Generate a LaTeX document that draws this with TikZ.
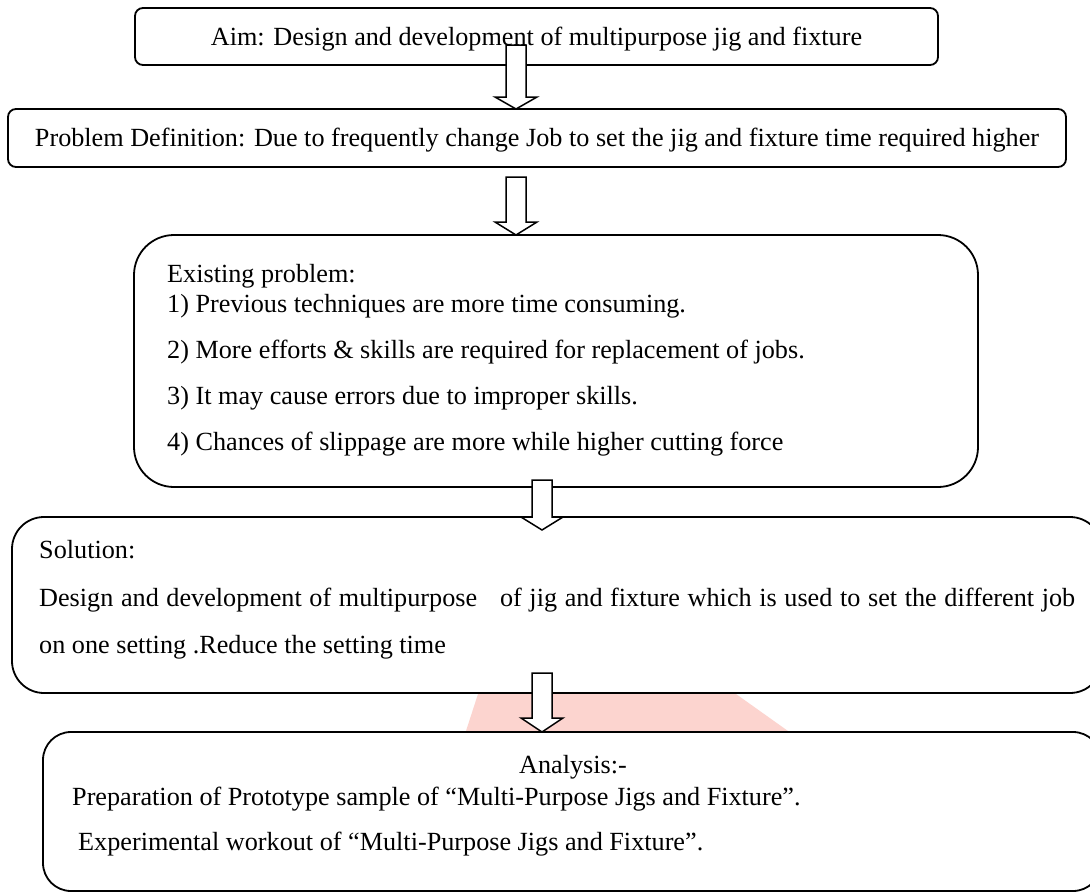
\documentclass[tikz,border=0pt]{standalone}
\usepackage{fontspec}
\setmainfont{Liberation Serif}
\usetikzlibrary{calc}
\definecolor{wmpink}{RGB}{252,212,207}
\newcommand\bigtxt{\fontsize{26.2}{31}\selectfont}
% hollow block arrow from coordinate #1 (shaft top) to coordinate #2 (tip)
% #3 shaft half width, #4 head half width, #5 head length (all in pt)
\newcommand\hollowarrow[5]{%
  \draw[harrow] let \p1=(#1), \p2=(#2) in
    (\x1-#3,\y1) -- (\x1+#3,\y1) -- (\x1+#3,\y2+#5) -- (\x1+#4,\y2+#5)
    -- (\x2,\y2) -- (\x1-#4,\y2+#5) -- (\x1-#3,\y2+#5) -- cycle;}
\begin{document}
\begin{tikzpicture}[x=1pt,y=-1pt,
  box/.style={draw,line width=1.8pt,inner sep=0pt,outer sep=0pt},
  harrow/.style={draw,fill=white,line width=1.5pt,line join=miter},
  btxt/.style={inner sep=0pt,anchor=base west,font=\bigtxt},
  ctxt/.style={inner sep=0pt,anchor=base,font=\bigtxt}]
\useasboundingbox (0,0) rectangle (1090,892);
\fill[white] (0,0) rectangle (1090,892);
\clip (0,0) rectangle (1090,892);
% faint watermark patch visible between the last two boxes
\fill[wmpink] (478,694) -- (736,694) -- (788,731) -- (466,731) -- cycle;
% boxes
\node[box,rounded corners=8pt,minimum width=803pt,minimum height=57pt] (aim) at (536.5,36.5) {};
\node[box,rounded corners=8pt,minimum width=1058pt,minimum height=58pt] (pdef) at (537,138) {};
\node[box,rounded corners=40pt,minimum width=844pt,minimum height=252pt] (exist) at (556,361) {};
\node[box,rounded corners=32pt,minimum width=1090pt,minimum height=176pt] (sol) at (557,605) {};
\node[box,rounded corners=28pt,minimum width=1058pt,minimum height=159pt] (ana) at (572,811.5) {};
% arrows
\coordinate (a1s) at (516,45);  \coordinate (a1t) at (516,109);
\coordinate (a2s) at (516,177); \coordinate (a2t) at (516,235);
\coordinate (a3s) at (542,480); \coordinate (a3t) at (542,530);
\coordinate (a4s) at (542,673); \coordinate (a4t) at (542,732);
\hollowarrow{a1s}{a1t}{10pt}{21pt}{12pt}
\hollowarrow{a2s}{a2t}{10pt}{21pt}{13pt}
\hollowarrow{a3s}{a3t}{10pt}{21pt}{13pt}
\hollowarrow{a4s}{a4t}{10pt}{21pt}{14pt}
% texts
\node[ctxt] (aimt) at (536.5,45)
  {Aim: Design and development of multipurpose jig and fixture};
\node[ctxt] (pdeft) at (537,146)
  {Problem Definition: Due to frequently change Job to set the jig and fixture time required higher};
\node[btxt] (e0) at (167,282) {Existing problem:};
\node[btxt] (e1) at (167,312) {1) Previous techniques are more time consuming.};
\node[btxt] (e2) at (167,358) {2) More efforts \& skills are required for replacement of jobs.};
\node[btxt] (e3) at (167,404) {3) It may cause errors due to improper skills.};
\node[btxt] (e4) at (167,450) {4) Chances of slippage are more while higher cutting force};
\node[btxt] (s0) at (39,558) {Solution:};
\node[btxt] (s1) at (39,606) {\makebox[1036pt][s]{Design and development of multipurpose \ \ of jig and fixture which is used to set the different job}};
\node[btxt] (s2) at (39,653) {on one setting .Reduce the setting time};
\node[btxt] (an0) at (519,773) {Analysis:-};
\node[btxt] (an1) at (72,805) {Preparation of Prototype sample of “Multi-Purpose Jigs and Fixture”.};
\node[btxt] (an2) at (78,850) {Experimental workout of “Multi-Purpose Jigs and Fixture”.};
\end{tikzpicture}
\end{document}
